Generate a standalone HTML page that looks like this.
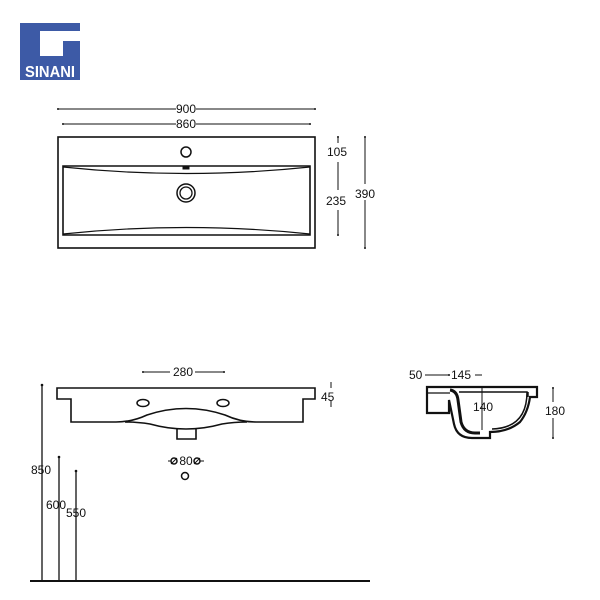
<!DOCTYPE html>
<html><head><style>
body{margin:0;background:#fff}
svg{display:block}
text{font-family:"Liberation Sans",Arial,sans-serif;font-size:12px;fill:#111}
</style></head><body>
<svg width="600" height="600" viewBox="0 0 600 600" xmlns="http://www.w3.org/2000/svg">
<defs><marker id="d" markerWidth="4" markerHeight="4" refX="2" refY="2"><circle cx="2" cy="2" r="1" fill="#111"/></marker></defs>
<!-- logo -->
<rect x="20" y="23" width="60" height="57" fill="#3d5aa6"/>
<path d="M40 31H80V41H63V56H40Z" fill="#fff"/>
<text x="50" y="77" text-anchor="middle" style="font-size:16px;font-weight:bold;fill:#fff" textLength="50" lengthAdjust="spacingAndGlyphs">SINANI</text>
<g stroke="#111" fill="none" stroke-width="1">
<!-- top view -->
<line x1="58" y1="109" x2="176" y2="109" marker-start="url(#d)"/><line x1="196" y1="109" x2="315" y2="109" marker-end="url(#d)"/>
<line x1="63" y1="124" x2="176" y2="124" marker-start="url(#d)"/><line x1="196" y1="124" x2="310" y2="124" marker-end="url(#d)"/>
<rect x="58" y="137" width="257" height="111" stroke-width="1.6"/>
<path d="M63 166H310V235H63Z" stroke-width="1.6"/>
<path d="M63 167Q186 180 310 167M63 234Q186 221 310 234" stroke-width="1.2"/>
<circle cx="186" cy="152" r="5" stroke-width="1.5"/>
<circle cx="186" cy="193" r="9" stroke-width="1.5"/><circle cx="186" cy="193" r="6" stroke-width="1.3"/>
<rect x="183" y="167" width="6" height="2" fill="#111"/>
<line x1="338" y1="137" x2="338" y2="143" marker-start="url(#d)"/><line x1="338" y1="162" x2="338" y2="190"/><line x1="338" y1="210" x2="338" y2="235" marker-end="url(#d)"/>
<line x1="365" y1="137" x2="365" y2="184" marker-start="url(#d)"/><line x1="365" y1="200" x2="365" y2="248" marker-end="url(#d)"/>
<!-- front view -->
<line x1="143" y1="372" x2="170" y2="372" marker-start="url(#d)"/><line x1="195" y1="372" x2="224" y2="372" marker-end="url(#d)"/>
<path d="M57 388H315V399H303V422H256Q240 422 225 415Q186 402 147 415Q132 422 116 422H71V399H57Z" stroke-width="1.6"/>
<path d="M125 422Q138 422 150 424Q186 434 222 424Q234 422 247 422" stroke-width="1.6"/>
<path d="M177 428V439H196V428" stroke-width="1.6"/>
<ellipse cx="143" cy="403" rx="6" ry="3.5" stroke-width="1.5"/><ellipse cx="223" cy="403" rx="6" ry="3.5" stroke-width="1.5"/>
<line x1="331" y1="382" x2="331" y2="388"/><line x1="331" y1="401" x2="331" y2="407"/>
<line x1="42" y1="385" x2="42" y2="581" stroke-width="1.3" marker-start="url(#d)"/>
<line x1="59" y1="457" x2="59" y2="581" stroke-width="1.3" marker-start="url(#d)"/>
<line x1="76" y1="471" x2="76" y2="581" stroke-width="1.3" marker-start="url(#d)"/>
<line x1="30" y1="581" x2="370" y2="581" stroke-width="2"/>
<circle cx="174" cy="461" r="3" stroke-width="1.5"/><circle cx="197" cy="461" r="3" stroke-width="1.5"/>
<line x1="171" y1="464" x2="177" y2="458"/><line x1="194" y1="464" x2="200" y2="458"/>
<circle cx="185" cy="476" r="3.5" stroke-width="1.5"/>
<line x1="168" y1="461" x2="171" y2="461"/><line x1="200" y1="461" x2="204" y2="461"/>
<!-- side view -->
<line x1="425" y1="375" x2="449" y2="375" marker-end="url(#d)"/><line x1="475" y1="375" x2="482" y2="375"/>
<path d="M427 387H537V397H530Q528 412 520 422Q508 432 490 432V438H472Q457 438 454 424L449 400V413H427Z" stroke-width="2.2" fill="#fff"/>
<path d="M427 393H450" stroke-width="1.2"/>
<path d="M450 390Q457 391 458 400L461 422Q464 433 475 433H480" stroke-width="3"/>
<path d="M459 392H527Q527 428 492 429" stroke-width="1.5"/>
<path d="M528 392V397" stroke-width="1.5"/>
<line x1="482" y1="387" x2="482" y2="430"/>
<line x1="553" y1="388" x2="553" y2="402" marker-start="url(#d)"/><line x1="553" y1="418" x2="553" y2="438" marker-end="url(#d)"/>
</g>
<text x="186" y="113" text-anchor="middle">900</text>
<text x="186" y="128" text-anchor="middle">860</text>
<text x="327" y="156">105</text>
<text x="326" y="205">235</text>
<text x="355" y="198">390</text>
<text x="183" y="376" text-anchor="middle">280</text>
<text x="321" y="401">45</text>
<text x="31" y="474">850</text>
<text x="46" y="509">600</text>
<text x="66" y="517">550</text>
<text x="186" y="465" text-anchor="middle">80</text>
<text x="409" y="379">50</text>
<text x="451" y="379">145</text>
<text x="473" y="411">140</text>
<text x="545" y="415">180</text>
</svg>
</body></html>
